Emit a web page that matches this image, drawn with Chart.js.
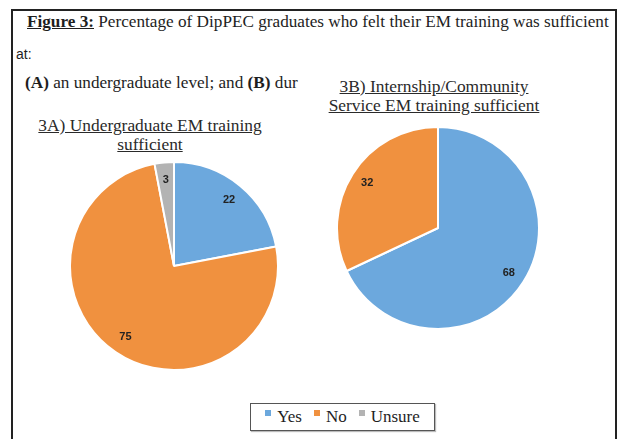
<!DOCTYPE html>
<html>
<head>
<meta charset="utf-8">
<script src="https://cdn.jsdelivr.net/npm/chart.js@4"></script>
<style>
  html, body { margin: 0; padding: 0; background: #fff; }
  body { width: 618px; height: 439px; position: relative; overflow: hidden;
         font-family: "Liberation Serif", "Times New Roman", serif; color: #1e1e1e; }
  .frame { position: absolute; left: 11px; top: 9px; width: 602px; height: 460px;
           border: 2px solid #222; }
  .txt { position: absolute; white-space: nowrap; font-size: 17.2px; }
  .ptitle { position: absolute; text-align: center; font-size: 17.4px; line-height: 19px;
            text-decoration: underline; color: #2a2a2a; white-space: nowrap; }
  canvas { position: absolute; }
  #legend { position: absolute; left: 250px; top: 403px; width: 183px; height: 26px;
            border: 1px solid #555; display: flex; justify-content: center; align-items: center;
            gap: 12px; font-size: 17px; box-shadow: 1px 1px 1px #bbb; }
  #legend span.box { display: inline-block; width: 6px; height: 6px; margin-right: 6px;
                     vertical-align: 6px; }
</style>
</head>
<body>
<div class="frame"></div>
<div class="txt" style="left:27px; top:12px;"><b><u>Figure 3:</u></b> Percentage of DipPEC graduates who felt their EM training was sufficient</div>
<div class="txt" style="left:16px; top:46px; font-size:14px; font-family:'Liberation Sans', sans-serif;">at:</div>
<div class="txt" style="left:25px; top:73px;"><b>(A)</b> an undergraduate level; and <b>(B)</b> dur</div>

<div class="ptitle" style="left:30px; top:116px; width:240px;">3A) Undergraduate EM training<br>sufficient</div>
<div class="ptitle" style="left:314px; top:77px; width:240px;">3B) Internship/Community<br>Service EM training sufficient</div>

<canvas id="pieA" width="210" height="210" style="left:69px; top:161px;"></canvas>
<canvas id="pieB" width="204" height="204" style="left:336px; top:126px;"></canvas>

<div id="legend"></div>

<script>
// categories and values
const labelsA = ['Yes', 'No', 'Unsure'];
const valuesA = [22, 75, 3];
const labelsB = ['Yes', 'No'];
const valuesB = [68, 32];
const legendLabels = ['Yes', 'No', 'Unsure'];
const sliceColors = ['#6ca8dd', '#f0913f', '#b3b3b3'];

// simple value labels inside each slice (no datalabels plugin available offline)
const sliceLabels = {
    id: 'sliceLabels',
    afterDatasetsDraw(chart) {
        const ctx = chart.ctx;
        const meta = chart.getDatasetMeta(0);
        const values = chart.data.datasets[0].data;
        ctx.save();
        ctx.font = 'bold 11px "Liberation Sans", Arial, sans-serif';
        ctx.fillStyle = '#222';
        ctx.textAlign = 'center';
        ctx.textBaseline = 'middle';
        meta.data.forEach((arc, i) => {
            const p = arc.getProps(['x', 'y', 'startAngle', 'endAngle', 'outerRadius'], true);
            const mid = (p.startAngle + p.endAngle) / 2;
            const r = p.outerRadius * 0.83;
            ctx.fillText(String(values[i]), p.x + Math.cos(mid) * r, p.y + Math.sin(mid) * r);
        });
        ctx.restore();
    }
};

function makePie(id, labels, values) {
    return new Chart(document.getElementById(id), {
        type: 'pie',
        data: {
            labels: labels,
            datasets: [{
                data: values,
                backgroundColor: sliceColors.slice(0, values.length),
                borderColor: '#ffffff',
                borderWidth: 2
            }]
        },
        options: {
            responsive: false,
            animation: false,
            layout: { padding: 0 },
            plugins: {
                legend: { display: false },
                tooltip: { enabled: false }
            }
        },
        plugins: [sliceLabels]
    });
}

makePie('pieA', labelsA, valuesA);
makePie('pieB', labelsB, valuesB);

// shared legend under both pies
const legend = document.getElementById('legend');
legendLabels.forEach((name, i) => {
    const item = document.createElement('div');
    item.innerHTML = '<span class="box" style="background:' + sliceColors[i] + '"></span>' + name;
    legend.appendChild(item);
});
</script>
</body>
</html>
